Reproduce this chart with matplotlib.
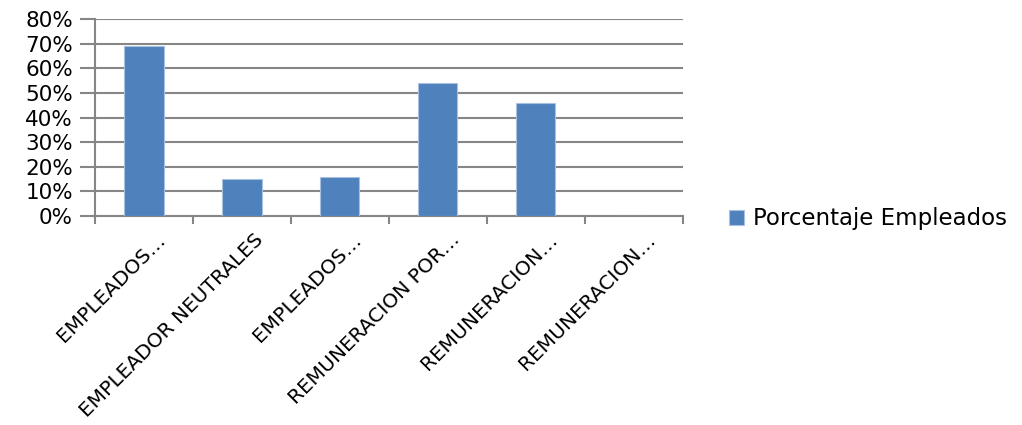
import numpy as np
from matplotlib import pyplot as plt
from matplotlib.ticker import PercentFormatter
from matplotlib.transforms import ScaledTranslation

# categorias y valores del grafico
categorias = ['EMPLEADOS…', 'EMPLEADOR NEUTRALES', 'EMPLEADOS…',
              'REMUNERACION POR…', 'REMUNERACION…', 'REMUNERACION…']
porcentajes = [0.69, 0.15, 0.16, 0.54, 0.46, 0.0]
serie = 'Porcentaje Empleados'

plt.rcParams['font.family'] = ['DejaVu Sans']

fig = plt.figure(figsize=(10.22, 4.25), dpi=100)
ax = fig.add_axes([0.093, 0.492, 0.575, 0.463])

x = np.arange(len(categorias))
ax.bar(x, porcentajes, width=0.4, color='#4F81BD', edgecolor='#A9C1E0',
       linewidth=0.8, label=serie, zorder=3)

ax.set_xlim(-0.5, len(categorias) - 0.5)
ax.set_ylim(0, 0.8)
ax.set_yticks(np.arange(0, 0.81, 0.1))
ax.yaxis.set_major_formatter(PercentFormatter(1.0, decimals=0))
ax.grid(axis='y', color='#868686', linewidth=1.5, zorder=0)

# ticks en los limites de categoria
ax.set_xticks(np.arange(-0.5, len(categorias)), minor=False)
ax.set_xticklabels([])
ax.set_xticks(x, minor=True)
ax.set_xticklabels(categorias, minor=True, rotation=45, ha='right',
                   rotation_mode='anchor', fontsize=14.5)
ax.tick_params(axis='x', which='minor', length=0, pad=10)
ax.tick_params(axis='x', which='major', length=6, width=1.5, color='#868686')
ax.tick_params(axis='y', length=11, width=1.5, color='#868686',
               labelsize=15.5, pad=5)

desplaza = ScaledTranslation(12 / 100, 0, fig.dpi_scale_trans)
for lbl in ax.get_xticklabels(minor=True):
    lbl.set_transform(lbl.get_transform() + desplaza)

for s in ['top', 'right']:
    ax.spines[s].set_visible(False)
for s in ['left', 'bottom']:
    ax.spines[s].set_color('#868686')
    ax.spines[s].set_linewidth(1.5)

fig.legend(loc='center left', bbox_to_anchor=(0.713, 0.485), frameon=False,
           fontsize=16.5, handlelength=0.65, handleheight=0.65,
           handletextpad=0.4, borderpad=0, borderaxespad=0)

fig.savefig('out.png', dpi=100)
